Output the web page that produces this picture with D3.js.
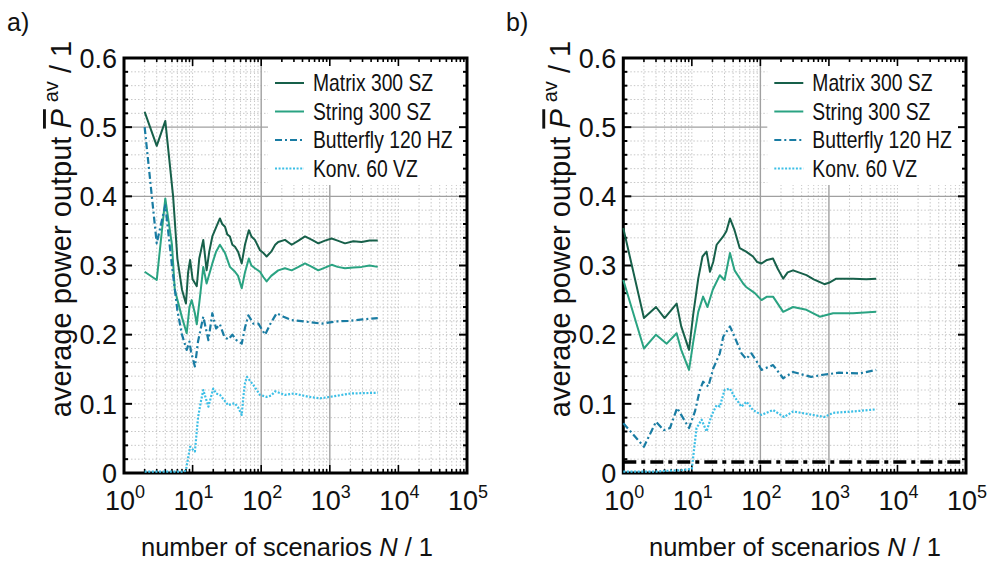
<!DOCTYPE html>
<html>
<head>
<meta charset="utf-8">
<script src="https://cdn.jsdelivr.net/npm/d3@7"></script>
<style>
  body { margin: 0; background: #fff; }
  text { font-family: "Liberation Sans", Arial, sans-serif; fill: #111; }
</style>
</head>
<body>
<svg id="chart" width="987" height="564"></svg>
<script>
// series names / legend
const seriesNames = ["Matrix 300 SZ", "String 300 SZ", "Butterfly 120 HZ", "Konv. 60 VZ"];
const seriesColors = ["#17604a", "#2aa382", "#197ca3", "#3cbfe6"];
const yTicks = [0, 0.1, 0.2, 0.3, 0.4, 0.5, 0.6];
const xTickExps = [0, 1, 2, 3, 4, 5];

// panel a) [N, average power]
const matrixA = [[2,0.522],[3,0.473],[4,0.509],[5.2,0.40],[6,0.31],[7,0.265],[8,0.245],[8.6,0.29],[9.2,0.308],[10,0.28],[11.5,0.27],[12.5,0.31],[14.3,0.337],[16,0.293],[17.5,0.32],[19.4,0.342],[22,0.355],[25,0.368],[27,0.36],[29.7,0.356],[32,0.345],[35,0.342],[38,0.33],[41.5,0.327],[46,0.32],[52,0.303],[58,0.33],[66,0.351],[72,0.342],[81,0.337],[96,0.322],[108,0.318],[120,0.313],[140,0.32],[160,0.33],[177,0.334],[222,0.337],[278,0.33],[350,0.336],[435,0.342],[550,0.337],[680,0.332],[850,0.336],[1066,0.339],[1300,0.336],[1667,0.332],[2200,0.335],[2917,0.334],[3800,0.336],[5000,0.336]];
const stringA = [[2,0.291],[3,0.279],[4,0.397],[5,0.33],[5.5,0.265],[7,0.225],[8.2,0.202],[9,0.24],[9.7,0.25],[10.8,0.231],[11.5,0.215],[13,0.26],[14.3,0.298],[16,0.274],[19.4,0.303],[22,0.32],[25,0.33],[29.7,0.318],[35,0.298],[41.5,0.291],[46,0.285],[52,0.267],[58,0.29],[66,0.31],[72,0.3],[81,0.296],[96,0.291],[108,0.283],[120,0.277],[140,0.285],[177,0.293],[222,0.296],[278,0.293],[350,0.298],[435,0.303],[550,0.298],[680,0.293],[850,0.297],[1066,0.301],[1300,0.298],[1667,0.296],[2200,0.297],[2917,0.298],[3800,0.3],[5000,0.298]];
const butterflyA = [[2,0.50],[3,0.332],[4,0.387],[5,0.30],[6,0.235],[7,0.20],[8.2,0.178],[9,0.19],[9.5,0.175],[10.8,0.154],[12,0.19],[14.3,0.226],[17,0.192],[19.4,0.231],[22,0.209],[25,0.215],[29,0.197],[33,0.193],[38,0.2],[43.6,0.192],[52,0.187],[58,0.21],[65,0.228],[77,0.216],[91,0.216],[114,0.2],[135,0.215],[168,0.231],[211,0.226],[278,0.221],[435,0.219],[760,0.216],[1200,0.219],[1860,0.22],[3000,0.222],[5000,0.224]];
const konvA = [[2,0.002],[4,0.002],[6,0.002],[7.5,0.002],[8,0.004],[9.2,0.038],[10.8,0.031],[12,0.08],[13,0.1],[14.3,0.12],[17,0.096],[20,0.122],[22,0.115],[25,0.113],[29,0.105],[33,0.098],[41,0.101],[46,0.095],[52,0.084],[55,0.11],[58,0.13],[62,0.139],[77,0.127],[96,0.113],[120,0.11],[140,0.112],[160,0.118],[222,0.113],[300,0.115],[500,0.11],[720,0.108],[1000,0.11],[2000,0.115],[5000,0.116]];

// panel b)
const matrixB = [[1,0.354],[2,0.224],[3,0.24],[4,0.224],[6,0.245],[7,0.212],[9.1,0.178],[10.5,0.23],[12.4,0.281],[14.3,0.313],[16.4,0.32],[18.4,0.291],[20.5,0.305],[23,0.33],[28.7,0.342],[32,0.35],[36,0.368],[42,0.351],[50,0.325],[62,0.32],[78,0.313],[90,0.305],[104,0.303],[125,0.308],[153,0.31],[180,0.295],[215,0.281],[250,0.29],[300,0.293],[470,0.286],[600,0.28],[860,0.273],[1000,0.275],[1280,0.281],[2250,0.281],[3500,0.28],[4900,0.281]];
const stringB = [[1,0.279],[2,0.18],[3,0.2],[4.3,0.187],[6,0.202],[7,0.178],[9.1,0.149],[10.5,0.19],[12.4,0.233],[14.6,0.255],[16.9,0.24],[20.2,0.265],[25.6,0.286],[30,0.279],[36,0.318],[42,0.293],[56,0.274],[62,0.269],[83,0.26],[104,0.25],[125,0.255],[153,0.255],[215,0.233],[300,0.24],[470,0.236],[735,0.226],[1150,0.231],[2250,0.231],[4900,0.233]];
const butterflyB = [[1,0.072],[2,0.038],[3,0.074],[3.9,0.062],[4.8,0.065],[6.1,0.094],[7.5,0.079],[9.1,0.065],[11.1,0.089],[13.1,0.12],[14.6,0.132],[17.4,0.125],[20.5,0.151],[25.6,0.173],[28.7,0.197],[36,0.212],[42,0.197],[53,0.173],[62,0.165],[74,0.173],[90,0.16],[104,0.149],[153,0.156],[215,0.137],[300,0.146],[550,0.139],[820,0.142],[1400,0.145],[2800,0.144],[4900,0.149]];
const konvB = [[1,0.002],[3,0.002],[4,0.003],[7,0.004],[10,0.006],[11.7,0.065],[13.9,0.077],[16.4,0.06],[19.5,0.084],[23,0.098],[25.6,0.096],[30,0.12],[36,0.122],[42,0.11],[53,0.096],[63,0.103],[78,0.091],[104,0.084],[153,0.091],[222,0.081],[300,0.089],[580,0.084],[860,0.081],[1150,0.087],[2250,0.089],[4900,0.092]];
const thresholdB = 0.016;

const svg = d3.select("#chart");
const dashes = [null, null, "7,3,2,3", "2,1.6"];

function drawPanel(opt) {
    const x = d3.scaleLog().domain([1, 1e5]).range([opt.left, opt.right]);
    const y = d3.scaleLinear().domain([0, 0.6]).range([473, 58]);
    const g = svg.append("g");

    // minor dotted grid
    const minorX = [];
    for (let e = 0; e < 5; e++) for (let m = 2; m <= 9; m++) minorX.push(m * Math.pow(10, e));
    xTickExps.slice(1, 5).forEach(e => { if (e != 2 && e != 3) minorX.push(Math.pow(10, e)); });
    const minorY = d3.range(1, 30).map(i => i * 0.02).filter(v => Math.abs(v - 0.4) > 1e-6 && Math.abs(v - 0.5) > 1e-6);
    g.selectAll(".gx").data(minorX).join("line")
        .attr("x1", d => x(d)).attr("x2", d => x(d)).attr("y1", y(0)).attr("y2", y(0.6))
        .attr("stroke", "#c8c8c8").attr("stroke-width", 1).attr("stroke-dasharray", "1.5,2");
    g.selectAll(".gy").data(minorY).join("line")
        .attr("x1", opt.left).attr("x2", opt.right).attr("y1", d => y(d)).attr("y2", d => y(d))
        .attr("stroke", "#c8c8c8").attr("stroke-width", 1).attr("stroke-dasharray", "1.5,2");
    // major solid grid
    [0.4, 0.5].forEach(v => g.append("line").attr("x1", opt.left).attr("x2", opt.right)
        .attr("y1", y(v)).attr("y2", y(v)).attr("stroke", "#a0a0a0").attr("stroke-width", 1.4));
    [100, 1000].forEach(v => g.append("line").attr("x1", x(v)).attr("x2", x(v))
        .attr("y1", y(0)).attr("y2", y(0.6)).attr("stroke", "#a0a0a0").attr("stroke-width", 1.4));

    // legend box hides grid behind it
    g.append("rect").attr("x", opt.left + 144).attr("y", 60).attr("width", opt.right - opt.left - 145)
        .attr("height", 125).attr("fill", "#fff");

    // ticks, inward on all sides
    const yMinor = d3.range(0, 31).map(i => i * 0.02);
    yMinor.forEach((v, i) => {
        const len = i % 5 == 0 ? 8 : 4;
        g.append("line").attr("x1", opt.left).attr("x2", opt.left + len).attr("y1", y(v)).attr("y2", y(v))
            .attr("stroke", "#000").attr("stroke-width", 2);
        g.append("line").attr("x1", opt.right).attr("x2", opt.right - len).attr("y1", y(v)).attr("y2", y(v))
            .attr("stroke", "#000").attr("stroke-width", 2);
    });
    const xAll = [];
    for (let e = 0; e < 5; e++) for (let m = 1; m <= 9; m++) xAll.push([m * Math.pow(10, e), m == 1]);
    xAll.forEach(([v, major]) => {
        const len = major ? 8 : 4;
        g.append("line").attr("x1", x(v)).attr("x2", x(v)).attr("y1", y(0)).attr("y2", y(0) - len)
            .attr("stroke", "#000").attr("stroke-width", 1.6);
        g.append("line").attr("x1", x(v)).attr("x2", x(v)).attr("y1", y(0.6)).attr("y2", y(0.6) + len)
            .attr("stroke", "#000").attr("stroke-width", 1.6);
    });

    // tick labels
    g.selectAll(".yl").data(yTicks).join("text")
        .attr("x", opt.left - 7).attr("y", d => y(d)).attr("dy", "0.36em")
        .attr("text-anchor", "end").attr("font-size", 27)
        .text(d => d == 0 ? "0" : d3.format(".1f")(d));
    xTickExps.forEach(e => {
        const t = g.append("text").attr("x", x(Math.pow(10, e)) + 1).attr("y", 510)
            .attr("text-anchor", "middle").attr("font-size", 27);
        t.append("tspan").text("10");
        t.append("tspan").attr("dy", -12).attr("font-size", 18).text(e);
    });

    // axis titles
    g.append("text").attr("x", opt.xLabelX).attr("y", 556).attr("text-anchor", "middle")
        .attr("font-size", 25.5)
        .call(t => {
            t.append("tspan").text("number of scenarios ");
            t.append("tspan").attr("font-style", "italic").text("N");
            t.append("tspan").text(" / 1");
        });
    g.append("text").attr("transform", `translate(${opt.left - 53},229) rotate(-90)`)
        .attr("text-anchor", "middle").attr("font-size", 29)
        .call(t => {
            t.append("tspan").text("average power output ");
            t.append("tspan").attr("font-style", "italic").style("text-decoration", "overline").text("P");
            t.append("tspan").attr("dy", -13).attr("dx", 7).attr("font-size", 20).text("av");
            t.append("tspan").attr("dy", 13).text(" / 1");
        });
    g.append("text").attr("x", opt.tagX).attr("y", 31).attr("font-size", 25).text(opt.tag);

    // frame
    g.append("rect").attr("x", opt.left).attr("y", y(0.6)).attr("width", opt.right - opt.left)
        .attr("height", y(0) - y(0.6)).attr("fill", "none").attr("stroke", "#000").attr("stroke-width", 3);

    // threshold
    if (opt.threshold != null) {
        g.append("line").attr("x1", opt.left).attr("x2", opt.right)
            .attr("y1", y(opt.threshold)).attr("y2", y(opt.threshold))
            .attr("stroke", "#000").attr("stroke-width", 3.5).attr("stroke-dasharray", "13,5,4,5");
    }

    // series
    const line = d3.line().x(d => x(d[0])).y(d => y(d[1]));
    opt.series.forEach((s, i) => {
        g.append("path").datum(s).attr("d", line).attr("fill", "none")
            .attr("stroke", seriesColors[i]).attr("stroke-width", i < 2 ? 2 : 2.2)
            .attr("stroke-dasharray", dashes[i]).attr("stroke-linejoin", "round");
    });

    // legend
    seriesNames.forEach((n, i) => {
        const ly = 83 + i * 28.5;
        g.append("line").attr("x1", opt.left + 151).attr("x2", opt.left + 180).attr("y1", ly).attr("y2", ly)
            .attr("stroke", seriesColors[i]).attr("stroke-width", 2).attr("stroke-dasharray", dashes[i]);
        g.append("text").attr("transform", `translate(${opt.left + 189},${ly}) scale(0.84,1)`)
            .attr("dy", "0.36em").attr("font-size", 23).text(n);
    });
}

drawPanel({left: 124, right: 467, tag: "a)", tagX: 7, xLabelX: 287, series: [matrixA, stringA, butterflyA, konvA], threshold: null});
drawPanel({left: 623.3, right: 966, tag: "b)", tagX: 506, xLabelX: 795, series: [matrixB, stringB, butterflyB, konvB], threshold: thresholdB});
</script>
</body>
</html>
